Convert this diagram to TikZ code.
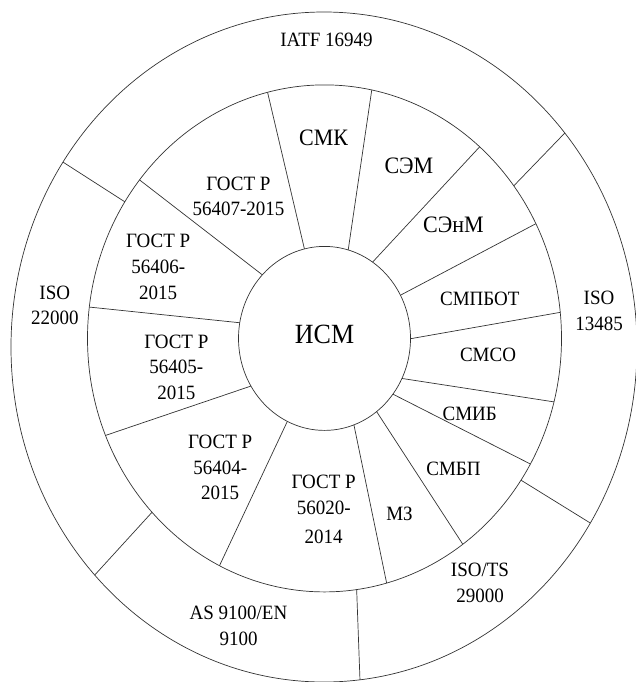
\documentclass[tikz,border=0pt]{standalone}
\usepackage{graphicx}
\usepackage{fontspec}
\setmainfont{Liberation Serif}
\newcommand{\stxt}[2][19]{\scalebox{1}[1.07]{\fontsize{#1}{24}\selectfont\begin{tabular}{@{}c@{}}#2\end{tabular}}}
\begin{document}
\begin{tikzpicture}[x=1pt,y=-1pt,
  ring/.style={draw=black!80,line width=0.7pt},
  lbl/.style={align=center,inner sep=0pt}]
\useasboundingbox (0,0) rectangle (636,682);
\clip (0,0) rectangle (636,682);
\coordinate (C) at (324.5,338.4);
\coordinate (D) at (324,347);
% circles
\draw[ring] (D) ellipse [x radius=313, y radius=335];
\draw[ring] (C) ellipse [x radius=237, y radius=253.5];
\draw[ring] (C) ellipse [x radius=86, y radius=92];
% inner ring spokes
\foreach \a/\b [count=\i] in {-103.5/-103.9,-74/-78.5,-56/-49.1,-28/-26.9,0.2/-5.9,25.8/14.5,37.3/29.7,52.7/54.3,70/74.8,115.6/116.3,148.8/157.5,189.8/187.1,223.7/218.7}{
  \coordinate (si\i) at ([shift={(C)}]\a:86 and 92);
  \coordinate (so\i) at ([shift={(C)}]\b:237 and 253.5);
  \draw[ring] (si\i) -- (so\i);
}
% outer ring spokes
\foreach \a/\b [count=\i] in {-37/-39.7,34/31.7,82.2/83.4,136.7/137.1,212.6/213.5}{
  \coordinate (ti\i) at ([shift={(C)}]\a:237 and 253.5);
  \coordinate (to\i) at ([shift={(D)}]\b:313 and 335);
  \draw[ring] (ti\i) -- (to\i);
}
% labels
\node[lbl] (ism) at (324.5,338.4) {\stxt[26]{ИСМ}};
\node[lbl] (smk) at (323.7,140) {\stxt[22]{СМК}};
\node[lbl] (sem) at (408.9,168.8) {\stxt[22]{СЭМ}};
\node[lbl] (senm) at (453.5,227) {\stxt[22]{СЭнМ}};
\node[lbl] (smpbot) at (479.8,300) {\stxt{СМПБОТ}};
\node[lbl] (smso) at (488,356.7) {\stxt{СМСО}};
\node[lbl] (smib) at (469.7,415.4) {\stxt{СМИБ}};
\node[lbl] (smbp) at (453.5,470.6) {\stxt{СМБП}};
\node[lbl] (mz) at (399.5,515.4) {\stxt{МЗ}};
\node[lbl] (g56020) at (323.7,511) {\stxt{ГОСТ Р\\56020-\\[4pt]2014}};
\node[lbl] (g56404) at (220.2,468.9) {\stxt{ГОСТ Р\\56404-\\2015}};
\node[lbl] (g56405) at (176.4,368.8) {\stxt{ГОСТ Р\\56405-\\2015}};
\node[lbl] (g56406) at (158.2,268.4) {\stxt{ГОСТ Р\\56406-\\2015}};
\node[lbl] (g56407) at (238.5,198) {\stxt{ГОСТ Р\\56407-2015}};
\node[lbl] (iatf) at (326.5,41.3) {\stxt{IATF 16949}};
\node[lbl] (iso13485) at (599,312.7) {\stxt{ISO\\13485}};
\node[lbl] (isots) at (480,584.6) {\stxt{ISO/TS\\29000}};
\node[lbl] (as9100) at (238.5,627.6) {\stxt{AS 9100/EN\\9100}};
\node[lbl] (iso22000) at (54.8,307) {\stxt{ISO\\22000}};
\end{tikzpicture}
\end{document}
